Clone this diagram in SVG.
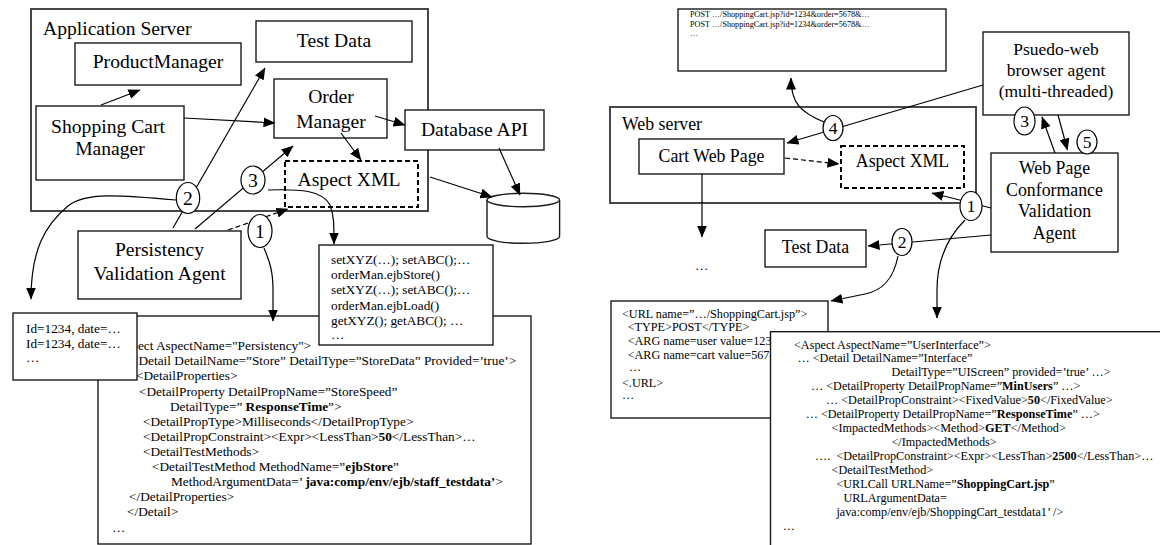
<svg xmlns="http://www.w3.org/2000/svg" width="1160" height="545" viewBox="0 0 1160 545">
<style>
.bx{fill:#fff;stroke:#1a1a1a;stroke-width:1.4}
.sv{fill:#fff;stroke:#333;stroke-width:1.8}
.dbx{fill:#fff;stroke:#000;stroke-width:2;stroke-dasharray:5 3}
.ln{fill:none;stroke:#000;stroke-width:1.2}
.dl{fill:none;stroke:#000;stroke-width:1.2;stroke-dasharray:5 3}
.cr{fill:#fff;stroke:#000;stroke-width:1.2}
text{font-family:"Liberation Serif","Times New Roman",serif;fill:#000}
.n{font-size:19.6px}
.m{font-size:17.8px}
.cn{font-size:17.5px}
.c{text-anchor:middle}
.x{font-size:13.3px}
.r{font-size:12.2px}
.p{font-size:8.2px}
.b{font-weight:bold}
</style>
<defs>
<marker id="ah" viewBox="0 0 12 10" refX="11.5" refY="5" markerWidth="12" markerHeight="10" markerUnits="userSpaceOnUse" orient="auto"><path d="M0,0L12,5L0,10z" fill="#000"/></marker>
</defs>

<!-- LEFT DIAGRAM -->
<g id="app-server"><rect class="sv" x="31" y="9" width="397" height="202"/><text class="n" x="43" y="35">Application Server</text></g>
<g id="test-data-left"><rect class="bx" x="256" y="21" width="156" height="41"/><text class="n c" x="334" y="47">Test Data</text></g>
<g id="product-manager"><rect class="bx" x="75" y="43" width="166" height="42"/><text class="n c" x="158" y="68">ProductManager</text></g>
<g id="shopping-cart-manager"><rect class="bx" x="36" y="106" width="148" height="74"/><text class="n c" x="108" y="133">Shopping Cart</text><text class="n c" x="110" y="155">Manager</text></g>
<g id="order-manager"><rect class="bx" x="274" y="79" width="113" height="59"/><text class="n c" x="331" y="103">Order</text><text class="n c" x="331" y="128">Manager</text></g>
<g id="aspect-xml-left"><rect class="dbx" x="285" y="161" width="133" height="46"/><text class="n c" x="349" y="186">Aspect XML</text></g>
<g id="database-api"><rect class="bx" x="405" y="110" width="139" height="40"/><text class="n c" x="474.5" y="136">Database API</text></g>
<g id="database"><path class="bx" d="M487,200 L487,236.6 A36.3,6.7 0 0 0 559.6,236.6 L559.6,200"/><ellipse class="bx" cx="523.3" cy="200" rx="36.3" ry="6.7"/></g>
<g id="persistency-xml"><rect class="bx" x="98" y="316" width="433" height="228"/>
<text class="x" x="109" y="349.5">&lt;Aspect AspectName="Persistency"&gt;</text>
<text class="x" x="131" y="365">&lt;Detail DetailName=”Store” DetailType=”StoreData” Provided=’true’&gt;</text>
<text class="x" x="136" y="380">&lt;DetailProperties&gt;</text>
<text class="x" x="139" y="395.5">&lt;DetailProperty DetailPropName=”StoreSpeed”</text>
<text class="x" x="170" y="410.5">DetailType=” <tspan class="b">ResponseTime</tspan>”&gt;</text>
<text class="x" x="143" y="425.5">&lt;DetailPropType&gt;Milliseconds&lt;/DetailPropType&gt;</text>
<text class="x" x="143" y="440.5">&lt;DetailPropConstraint&gt;&lt;Expr&gt;&lt;LessThan&gt;<tspan class="b">50</tspan>&lt;/LessThan&gt;…</text>
<text class="x" x="143" y="455.5">&lt;DetailTestMethods&gt;</text>
<text class="x" x="152" y="471">&lt;DetailTestMethod MethodName=”<tspan class="b">ejbStore</tspan>”</text>
<text class="x" x="171" y="486">MethodArgumentData=’ <tspan class="b">java:comp/env/ejb/staff_testdata’</tspan>&gt;</text>
<text class="x" x="129" y="501">&lt;/DetailProperties&gt;</text>
<text class="x" x="127" y="516">&lt;/Detail&gt;</text>
<text class="x" x="112" y="532">…</text>
</g>
<g id="id-data"><rect class="bx" x="13" y="313" width="124" height="67"/>
<text class="x" x="26" y="332.5">Id=1234, date=…</text>
<text class="x" x="26" y="347.5">Id=1234, date=…</text>
<text class="x" x="26" y="362">…</text>
</g>
<g id="call-sequence"><rect class="bx" x="319" y="245" width="174" height="100"/>
<text class="x" x="331" y="264">setXYZ(…); setABC();…</text>
<text class="x" x="331" y="279">orderMan.ejbStore()</text>
<text class="x" x="331" y="294">setXYZ(…); setABC();…</text>
<text class="x" x="331" y="309.5">orderMan.ejbLoad()</text>
<text class="x" x="331" y="324.5">getXYZ(); getABC(); …</text>
<text class="x" x="331" y="339">…</text>
</g>
<g id="persistency-agent"><rect class="bx" x="78" y="231" width="163" height="68"/><text class="n c" x="159.5" y="256">Persistency</text><text class="n c" x="159.5" y="280">Validation Agent</text></g>

<!-- RIGHT DIAGRAM -->
<g id="post-log"><rect class="bx" x="678" y="9" width="268" height="62"/>
<text class="p" x="690" y="17">POST …/ShoppingCart.jsp?id=1234&amp;order=5678&amp;…</text>
<text class="p" x="690" y="27">POST …/ShoppingCart.jsp?id=1234&amp;order=5678&amp;…</text>
<text class="p" x="690" y="35.5">…</text>
</g>
<g id="web-server"><rect class="sv" x="610" y="107" width="366" height="96"/><text class="m" x="622" y="130">Web server</text></g>
<g id="cart-web-page"><rect class="bx" x="639" y="139" width="145" height="35"/><text class="m c" x="711.5" y="162">Cart Web Page</text></g>
<g id="aspect-xml-right"><rect class="dbx" x="841" y="146" width="123" height="42"/><text class="m c" x="902.5" y="167">Aspect XML</text></g>
<g id="pseudo-browser"><rect class="bx" x="983" y="32" width="146" height="83"/><text class="cn c" x="1056" y="55">Psuedo-web</text><text class="cn c" x="1056" y="76">browser agent</text><text class="cn c" x="1056" y="97">(multi-threaded)</text></g>
<g id="conformance-agent"><rect class="bx" x="991" y="153" width="127" height="99"/><text class="m c" x="1054.5" y="174">Web Page</text><text class="m c" x="1054.5" y="195.5">Conformance</text><text class="m c" x="1054.5" y="217">Validation</text><text class="m c" x="1054.5" y="238.5">Agent</text></g>
<g id="test-data-right"><rect class="bx" x="765" y="230" width="101" height="37"/><text class="m c" x="815.5" y="253">Test Data</text></g>
<g id="ellipsis-out"><text class="x" x="695" y="270">…</text></g>
<g id="url-xml"><rect class="bx" x="611" y="301" width="217" height="117"/>
<text class="r" x="622" y="317.5">&lt;URL name=”…/ShoppingCart.jsp”&gt;</text>
<text class="r" x="627.7" y="331">&lt;TYPE&gt;POST&lt;/TYPE&gt;</text>
<text class="r" x="627.7" y="345">&lt;ARG name=user value=1234</text>
<text class="r" x="627.7" y="358.5">&lt;ARG name=cart value=5678</text>
<text class="r" x="629" y="371">…</text>
<text class="r" x="622" y="386.5">&lt;.URL&gt;</text>
<text class="r" x="622" y="399">…</text>
</g>
<g id="userinterface-xml"><rect class="bx" x="770.5" y="331.7" width="420" height="240"/>
<text class="r" x="794" y="348.5">&lt;Aspect AspectName=”UserInterface”&gt;</text>
<text class="r" x="797.5" y="362">… &lt;Detail DetailName=”Interface”</text>
<text class="r" x="891.5" y="376">DetailType=”UIScreen” provided=’true’ …&gt;</text>
<text class="r" x="811" y="390">… &lt;DetailProperty DetailPropName=”<tspan class="b">MinUsers</tspan>” …&gt;</text>
<text class="r" x="826" y="404">… &lt;DetailPropConstraint&gt;&lt;FixedValue&gt;<tspan class="b">50</tspan>&lt;/FixedValue&gt;</text>
<text class="r" x="805.7" y="418">… &lt;DetailProperty DetailPropName=”<tspan class="b">ResponseTime</tspan>” …&gt;</text>
<text class="r" x="831.6" y="432">&lt;ImpactedMethods&gt;&lt;Method&gt;<tspan class="b">GET</tspan>&lt;/Method&gt;</text>
<text class="r" x="891.5" y="446">&lt;/ImpactedMethods&gt;</text>
<text class="r" x="815" y="460">….<tspan x="836.4">&lt;DetailPropConstraint&gt;&lt;Expr&gt;&lt;LessThan&gt;</tspan><tspan class="b">2500</tspan>&lt;/LessThan&gt;…</text>
<text class="r" x="831.6" y="473.5">&lt;DetailTestMethod&gt;</text>
<text class="r" x="836.4" y="488">&lt;URLCall URLName=”<tspan class="b">ShoppingCart.jsp</tspan>”</text>
<text class="r" x="843.4" y="501.5">URLArgumentData=</text>
<text class="r" x="836.4" y="516">java:comp/env/ejb/ShoppingCart_testdata1’ /&gt;</text>
<text class="r" x="782.7" y="530">…</text>
</g>

<!-- CONNECTORS -->
<g id="connectors">
<path class="ln" d="M101,105 L140,90" marker-end="url(#ah)"/>
<path class="ln" d="M184,118 L275,123" marker-end="url(#ah)"/>
<path class="ln" d="M375,116 L405,125" marker-end="url(#ah)"/>
<path class="ln" d="M341,133 L361,160" marker-end="url(#ah)"/>
<path class="ln" d="M430,177 L492,197" marker-end="url(#ah)"/>
<path class="ln" d="M499,148 L520,195" marker-end="url(#ah)"/>
<path class="ln" d="M173,228 L265,68" marker-end="url(#ah)"/>
<path class="ln" d="M176,200 C120,195 85,192 68,206 C45,225 31,250 31,299" marker-end="url(#ah)"/>
<path class="ln" d="M195,229 L293,146" marker-end="url(#ah)"/>
<path class="ln" d="M268,190 C300,189 322,190 330,205 C334,215 334,225 334,244" marker-end="url(#ah)"/>
<path class="dl" d="M228,230 L288,209" marker-end="url(#ah)"/>
<path class="ln" d="M264,248 C270,262 273,272 273,290 L273,321" marker-end="url(#ah)"/>

<path class="ln" d="M983,85 L787,143" marker-end="url(#ah)"/>
<path class="ln" d="M824,122 C800,112 791,103 791,78" marker-end="url(#ah)"/>
<path class="dl" d="M785,158 L839,164" marker-end="url(#ah)"/>
<path class="ln" d="M702,174 L702,237" marker-end="url(#ah)"/>
<path class="ln" d="M1055,153 L1042,117" marker-end="url(#ah)"/>
<path class="ln" d="M1058,115 L1067.5,150" marker-end="url(#ah)"/>
<path class="ln" d="M991,208 L932,193" marker-end="url(#ah)"/>
<path class="ln" d="M991,235 L868,246" marker-end="url(#ah)"/>
<path class="ln" d="M898,256 C893,282 880,291 865,294 L831,301" marker-end="url(#ah)"/>
<path class="ln" d="M965,220 C945,240 937,265 937,290 L937,318" marker-end="url(#ah)"/>
</g>

<!-- STEP LABELS -->
<g id="step-1-left"><ellipse class="cr" cx="260" cy="231" rx="12" ry="16.5"/><text class="n c" x="260" y="238">1</text></g>
<g id="step-2-left"><ellipse class="cr" cx="188" cy="198" rx="11.7" ry="15.5"/><text class="n c" x="188" y="205">2</text></g>
<g id="step-3-left"><ellipse class="cr" cx="253" cy="180" rx="12" ry="14"/><text class="n c" x="253" y="187">3</text></g>
<g id="step-4-right"><ellipse class="cr" cx="833" cy="128" rx="10" ry="12.5"/><text class="cn c" x="833" y="134">4</text></g>
<g id="step-3-right"><ellipse class="cr" cx="1024.5" cy="121" rx="10.5" ry="14"/><text class="cn c" x="1024.5" y="127">3</text></g>
<g id="step-5-right"><ellipse class="cr" cx="1087" cy="142" rx="10" ry="12"/><text class="cn c" x="1087" y="148">5</text></g>
<g id="step-1-right"><ellipse class="cr" cx="971" cy="206" rx="11" ry="14.5"/><text class="cn c" x="971" y="212">1</text></g>
<g id="step-2-right"><ellipse class="cr" cx="902" cy="242" rx="10" ry="13.5"/><text class="cn c" x="902" y="248">2</text></g>
</svg>
